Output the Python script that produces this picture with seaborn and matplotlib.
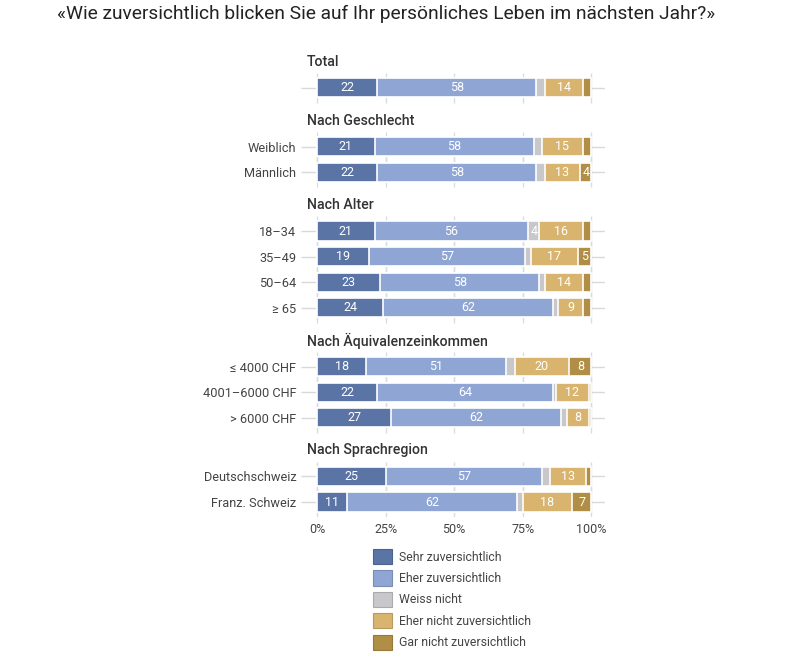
import numpy as np
import pandas as pd
import matplotlib
matplotlib.use("Agg")
import matplotlib.pyplot as plt
from matplotlib.patches import Patch
import seaborn as sns

sns.set_theme(style="white")
plt.rcParams["font.family"] = ["Roboto", "DejaVu Sans"]

title = "«Wie zuversichtlich blicken Sie auf Ihr persönliches Leben im nächsten Jahr?»"

groups = ["Total", "Nach Geschlecht", "Nach Alter", "Nach Äquivalenzeinkommen", "Nach Sprachregion"]
group_rows = [
    [""],
    ["Weiblich", "Männlich"],
    ["18–34", "35–49", "50–64", "≥ 65"],
    ["≤ 4000 CHF", "4001–6000 CHF", "> 6000 CHF"],
    ["Deutschschweiz", "Franz. Schweiz"],
]
series = ["Sehr zuversichtlich", "Eher zuversichtlich", "Weiss nicht",
          "Eher nicht zuversichtlich", "Gar nicht zuversichtlich"]
sehr       = [22, 21, 22, 21, 19, 23, 24, 18, 22, 27, 25, 11]
eher       = [58, 58, 58, 56, 57, 58, 62, 51, 64, 62, 57, 62]
weiss      = [3, 3, 3, 4, 2, 2, 2, 3, 1, 2, 3, 2]
eher_nicht = [14, 15, 13, 16, 17, 14, 9, 20, 12, 8, 13, 18]
gar_nicht  = [3, 3, 4, 3, 5, 3, 3, 8, 1, 1, 2, 7]
colors = ["#5b74a6", "#8fa6d4", "#c8c8ca", "#d8b46f", "#b08e45"]
xticks = [0, 25, 50, 75, 100]
xticklabels = ["0%", "25%", "50%", "75%", "100%"]

# layout positions
positions, labels, header_pos = [], [], []
y = 0.0
for gi, rows in enumerate(group_rows):
    if gi > 0:
        y += 2.3
    header_pos.append(y - 1.02)
    for ri, r in enumerate(rows):
        if ri > 0:
            y += 1.0
        positions.append(y)
        labels.append(r)

vals = np.array([sehr, eher, weiss, eher_nicht, gar_nicht], dtype=float)
cum = np.cumsum(vals, axis=0)
df = pd.DataFrame({"pos": positions})
for k, s in enumerate(series):
    df[s] = vals[k]
    df["cum_" + str(k)] = cum[k]

fig = plt.figure(figsize=(8.08, 6.68), dpi=100)
ax = fig.add_axes([300.6 / 808, 1 - 517.4 / 668, (605 - 300.6) / 808, (517.4 - 47) / 668])

# grid segments
ax.hlines(positions, -6, 105, color="#d9d9d9", lw=1, zorder=0)
for p in positions:
    ax.vlines(xticks, p - 0.58, p + 0.58, color="#dcdcdc", lw=1, zorder=0)

for k in range(len(series) - 1, -1, -1):
    sns.barplot(data=df, x="cum_" + str(k), y="pos", orient="h", native_scale=True,
                color=colors[k], saturation=1, width=0.75, edgecolor="white",
                linewidth=1.2, ax=ax, zorder=2)

for i, p in enumerate(positions):
    left = 0
    for k in range(len(series)):
        v = vals[k, i]
        if v >= 4:
            ax.text(left + v / 2, p, f"{int(v)}", ha="center", va="center",
                    color="white", fontsize=9, zorder=5)
        left += v

for g, hp in zip(groups, header_pos):
    ax.text(-3.6, hp, g, ha="left", va="center", fontsize=10.2, fontweight="medium",
            color="#333333")

ax.set_xlim(-6, 105)
ax.set_ylim(positions[-1] + 0.6, -1.6)
ax.set_yticks(positions)
ax.set_yticklabels(labels, fontsize=9.2, color="#444444")
ax.set_xticks(xticks)
ax.set_xticklabels(xticklabels, fontsize=9, color="#444444")
ax.tick_params(axis="both", length=0)
ax.tick_params(axis="y", pad=3)
ax.tick_params(axis="x", pad=4)
ax.set_xlabel("")
ax.set_ylabel("")
for s in ax.spines.values():
    s.set_visible(False)

fig.text(57 / 808, 1 - 14 / 668, title, ha="left", va="center", fontsize=13.8,
         color="#222222")

handles = [Patch(facecolor=c, edgecolor=matplotlib.colors.to_hex(np.array(matplotlib.colors.to_rgb(c)) * 0.85), lw=0.8)
           for c in colors]
fig.legend(handles, series, loc="upper left", bbox_to_anchor=(368 / 808, 1 - 544 / 668),
           frameon=False, fontsize=8.8, handlelength=1.55, handleheight=1.55,
           labelspacing=0.5, handletextpad=0.6, labelcolor="#444444", borderaxespad=0)

fig.savefig("out.png", dpi=100)
